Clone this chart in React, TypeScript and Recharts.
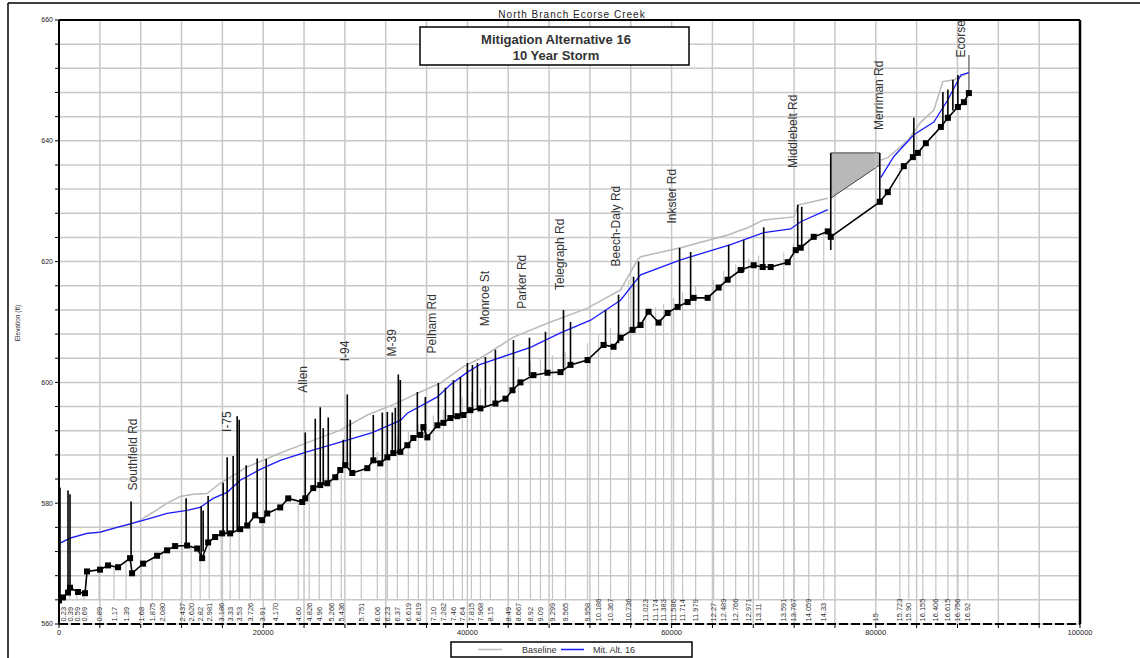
import React from 'react';
import { ComposedChart, Line, Area, Scatter, XAxis, YAxis, CartesianGrid, ReferenceLine } from 'recharts';

// ---- Data (stations in ft, elevations in ft) ----
const xsStations = [392, 1078, 1765, 2451, 3922, 5392, 6569, 8039, 9118, 10098, 12059, 12941, 13824, 14706, 15882, 16765, 17647, 18725, 19902, 21176, 23431, 24510, 25490, 26667, 27647, 29608, 31176, 32157, 33137, 34216, 35196, 36667, 37647, 38627, 39510, 40392, 41275, 42255, 44020, 45000, 46176, 47157, 48333, 49608, 51765, 52843, 54020, 55784, 57451, 58431, 59216, 60196, 61078, 62353, 64118, 65098, 66275, 67549, 68529, 70980, 71961, 73431, 74902, 80000, 82353, 83235, 84608, 85882, 87059, 88039, 89020];
const xsLabels = ['0.23', '0.39', '0.59', '0.69', '0.89', '1.17', '1.39', '1.68', '1.875', '2.080', '2.437', '2.620', '2.82', '2.981', '3.186', '3.33', '3.53', '3.726', '3.91', '4.170', '4.60', '4.826', '4.96', '5.266', '5.436', '5.751', '6.06', '6.23', '6.37', '6.619', '6.819', '7.10', '7.282', '7.46', '7.64', '7.815', '7.968', '8.15', '8.49', '8.667', '8.92', '9.09', '9.299', '9.565', '9.958', '10.186', '10.367', '10.736', '11.023', '11.174', '11.383', '11.586', '11.714', '11.979', '12.27', '12.489', '12.766', '12.971', '13.11', '13.591', '13.767', '14.059', '14.33', '15', '15.723', '15.90', '16.155', '16.406', '16.615', '16.756', '16.92'];
const xsTops = [564.6, 566.0, 565.3, 565.1, 569.0, 569.5, 570.5, 570.0, 570.8, 571.8, 573.0, 573.0, 571.0, 573.6, 575.0, 575.0, 575.7, 576.8, 577.2, 579.0, 580.4, 581.8, 583.0, 583.8, 585.6, 585.5, 588.5, 590.0, 591.0, 592.0, 593.0, 594.5, 595.5, 596.5, 597.5, 598.5, 599.0, 599.5, 601.0, 602.5, 603.5, 604.0, 604.5, 605.0, 606.5, 608.0, 609.0, 617.0, 612.0, 612.5, 613.0, 614.0, 615.0, 616.0, 617.0, 618.5, 619.5, 620.5, 621.0, 621.5, 623.0, 624.0, 625.0, 638.0, 635.5, 637.0, 639.0, 641.5, 644.5, 646.0, 648.0];

const baselineWS: [number, number | null][] = [[0, 573.3], [1078, 574.2], [2745, 575.0], [4020, 575.2], [5686, 576.0], [6960, 576.5], [7941, 577.2], [9216, 578.5], [10588, 580.0], [11863, 581.1], [13137, 581.5], [14510, 581.6], [15784, 583.3], [18431, 586.0], [21667, 588.3], [24902, 590.4], [27549, 592.1], [30196, 594.6], [33137, 596.6], [34706, 597.9], [37353, 599.9], [39608, 602.6], [41275, 604.0], [44510, 607.5], [47843, 609.8], [51765, 612.3], [55000, 615.3], [56667, 620.3], [56961, 620.8], [60882, 622.3], [65490, 624.4], [67451, 625.6], [69020, 626.9], [71961, 627.4], [72451, 629.4], [75294, 630.5], [77000, null], [80490, 636.8], [81176, 637.2], [83137, 640.1], [84412, 643.1], [85686, 645.1], [86569, 649.8], [87647, 650.1], [89118, 651.3]];

const mitAltWS: [number, number | null][] = [[0, 573.3], [1078, 574.2], [2745, 575.0], [4020, 575.2], [5686, 576.0], [7255, 576.7], [8922, 577.5], [10588, 578.3], [12549, 578.8], [13824, 579.3], [15098, 580.8], [16471, 581.8], [17745, 583.8], [19706, 585.6], [21667, 587.1], [24118, 588.4], [27549, 590.1], [30686, 591.7], [33431, 593.7], [34118, 594.9], [37059, 597.6], [38333, 599.6], [40000, 601.7], [41275, 603.0], [46176, 605.8], [49118, 608.2], [52059, 610.3], [55000, 613.6], [56961, 617.8], [60882, 620.3], [65784, 622.8], [69020, 624.8], [71667, 625.4], [72647, 626.6], [75294, 628.6], [77000, null], [80490, 633.9], [81765, 637.4], [83725, 641.0], [85686, 643.1], [87059, 646.8], [88333, 650.9], [89118, 651.3]];

const ground: [number, number][] = [[0, 563.9], [392, 564.4], [882, 565.2], [1078, 566.0], [1863, 565.3], [2549, 565.1], [2745, 568.7], [4020, 569.0], [4804, 569.7], [5784, 569.4], [6961, 570.9], [7157, 568.4], [8235, 570.0], [9608, 571.3], [10588, 572.2], [11373, 572.9], [12549, 573.0], [13529, 572.5], [14020, 570.9], [14608, 573.5], [15294, 574.4], [15980, 575.0], [16765, 575.0], [17745, 575.7], [18431, 576.3], [19216, 578.0], [19902, 577.2], [20392, 578.3], [21667, 579.3], [22451, 580.8], [23824, 580.2], [24118, 580.8], [24902, 582.5], [25588, 583.0], [26275, 583.3], [27059, 584.3], [27549, 585.5], [28039, 586.3], [28725, 585.0], [30196, 585.8], [30784, 587.1], [31471, 586.6], [32157, 587.6], [32745, 588.3], [33431, 588.5], [34118, 589.6], [34706, 590.8], [35392, 591.3], [35686, 592.6], [36078, 590.9], [37059, 592.9], [37647, 593.3], [38333, 594.1], [39020, 594.4], [39608, 594.6], [40294, 595.4], [41275, 595.7], [42745, 596.5], [43725, 597.3], [44412, 598.7], [45196, 600.0], [46471, 601.2], [47843, 601.6], [49118, 601.7], [50098, 602.9], [51765, 603.7], [53333, 606.2], [54314, 605.9], [55000, 607.4], [56176, 608.7], [56961, 609.5], [57745, 611.7], [58725, 609.9], [59608, 611.5], [60588, 612.5], [61569, 613.3], [62157, 614.0], [63529, 614.0], [64608, 615.7], [65490, 617.0], [66765, 618.6], [68039, 619.4], [68922, 619.1], [69706, 619.1], [71373, 619.9], [72157, 621.9], [72647, 622.3], [73922, 624.1], [75294, 625.0], [75588, 624.1], [80392, 629.9], [81176, 631.5], [82745, 635.8], [83627, 637.3], [84118, 638.0], [84902, 639.6], [86373, 642.3], [87059, 643.8], [88039, 645.6], [88627, 646.4], [89118, 647.9]];

// bridge / structure verticals: [station, bottom, top]
const spikes: [number, number, number][] = [[98, 564.2, 582.6], [882, 565.2, 582.1], [1078, 566.0, 581.5], [7059, 570.5, 580.3], [12451, 573.0, 580.8], [13922, 571.0, 579.5], [14118, 572.0, 578.8], [14608, 573.5, 581.2], [16078, 575.0, 583.4], [16471, 575.0, 587.6], [17059, 575.3, 587.8], [17451, 575.5, 594.4], [17647, 575.6, 593.8], [18333, 576.2, 586.3], [19412, 577.5, 587.4], [20294, 578.2, 587.3], [24118, 580.8, 591.7], [25098, 582.7, 594.0], [25588, 583.0, 595.9], [25882, 583.1, 592.4], [26373, 583.4, 594.2], [27843, 586.0, 590.5], [28235, 586.2, 598.0], [28529, 585.5, 593.8], [30784, 587.1, 594.6], [31667, 586.9, 595.0], [32157, 587.6, 595.1], [32647, 588.2, 595.0], [32941, 588.3, 595.8], [33235, 588.4, 601.3], [33431, 588.5, 600.4], [35098, 591.0, 598.4], [35882, 591.5, 597.6], [37157, 592.9, 599.9], [37843, 593.5, 599.1], [38627, 594.2, 600.4], [39314, 594.5, 600.9], [40000, 595.0, 603.2], [40490, 595.4, 602.9], [40980, 595.6, 603.2], [41765, 596.0, 604.2], [42745, 596.5, 605.4], [44510, 599.0, 607.0], [46078, 601.0, 607.4], [47647, 601.6, 608.4], [49412, 601.9, 612.0], [50098, 602.9, 610.0], [53529, 606.2, 612.0], [54804, 606.5, 614.5], [56275, 608.8, 617.5], [56765, 609.3, 620.0], [60784, 612.4, 622.3], [61863, 613.6, 621.6], [65588, 617.0, 622.8], [67059, 618.3, 623.6], [69020, 619.1, 625.7], [72353, 622.0, 629.4], [72745, 622.3, 629.1], [75588, 621.9, 638.0], [80392, 629.9, 638.0], [83725, 637.5, 643.8], [86569, 642.4, 648.1], [87059, 643.8, 648.5], [87549, 645.0, 650.1], [88039, 645.6, 650.9]];

const ecorseSpike: [number, number, number] = [89118, 647.9, 654.2];

// storage structure (shaded) : [station, low, high]
const structure: [number, number, number][] = [[75588, 630.5, 638.0], [80392, 636.0, 638.0]];

const roadNames = ['Southfield Rd', 'I-75', 'Allen', 'I-94', 'M-39', 'Pelham Rd', 'Monroe St', 'Parker Rd', 'Telegraph Rd', 'Beech-Daly Rd', 'Inkster Rd', 'Middlebelt Rd', 'Merriman Rd', 'Ecorse'];
const roadStations = [7255, 16471, 23922, 28039, 32647, 36569, 41765, 45392, 49118, 54510, 60000, 71863, 80294, 88333];
const roadElevs = [582.1, 591.8, 598.3, 603.5, 604.3, 604.8, 609.3, 612.2, 615.3, 619.2, 626.3, 635.5, 641.8, 653.8];

const xTicks = Array.from({ length: 26 }, (_, i) => i * 4000);
const yTicks = Array.from({ length: 26 }, (_, i) => 560 + i * 4);

const FONT = '"Liberation Sans", Arial, sans-serif';
const W = 1140;
const H = 658;

// ---- derived tables ----
const toLine = (arr: [number, number | null][]) => arr.map(([x, y]) => ({ x, y }));
const pairsData = (arr: [number, number, number][]) =>
  arr.flatMap(([x, b, t]) => [{ x, y: b }, { x, y: t }, { x, y: null }]);
const xsLineData = pairsData(xsStations.map((s, i) => [s, 564, xsTops[i]] as [number, number, number]));
const xsLabelData = xsStations.map((s, i) => ({ x: s, y: 560, name: xsLabels[i] }));
const spikeData = pairsData(spikes);
const ecorseData = pairsData([ecorseSpike]);
const structureData = structure.map(([x, lo, hi]) => ({ x, lo, hi }));
const roadData = roadNames.map((n, i) => ({ x: roadStations[i], y: roadElevs[i], name: n }));

const Marker = (p: any) => {
  if (p.cx == null || p.cy == null) return <g key={p.index} />;
  return <rect key={p.index} x={p.cx - 3} y={p.cy - 3} width={6} height={6} fill="#000" />;
};

const RoadLabel = (p: any) => (
  <text
    x={p.cx}
    y={p.cy}
    transform={`rotate(-90 ${p.cx} ${p.cy})`}
    fontSize={12}
    fontFamily={FONT}
    fill="#333"
    textAnchor="start"
    dominantBaseline="central"
  >
    {p.payload.name}
  </text>
);

const XsLabel = (p: any) => (
  <text
    x={p.cx}
    y={p.cy - 2.5}
    transform={`rotate(-90 ${p.cx} ${p.cy - 2.5})`}
    fontSize={7.5}
    fontFamily={FONT}
    fill="#333"
    textAnchor="start"
    dominantBaseline="central"
  >
    {p.payload.name}
  </text>
);

export default function App() {
  return (
    <div style={{ position: 'absolute', left: 0, top: 0, width: W, height: H, background: '#fff', fontFamily: FONT }}>
      <ComposedChart width={W} height={H} margin={{ top: 20, right: 60, bottom: 14, left: 34 }}>
        <CartesianGrid stroke="#c8c8c8" strokeWidth={1.5} />
        <XAxis
          type="number"
          dataKey="x"
          domain={[0, 100000]}
          ticks={xTicks}
          interval={0}
          allowDataOverflow
          height={20}
          tickSize={4}
          tickFormatter={(v: number) => (v % 20000 === 0 ? String(v) : '')}
          tick={{ fontSize: 7.5, fill: '#222', fontFamily: FONT }}
          tickLine={{ stroke: '#000' }}
          axisLine={{ stroke: '#000', strokeWidth: 2, strokeDasharray: '9 3' }}
        />
        <YAxis
          type="number"
          dataKey="y"
          domain={[560, 660]}
          ticks={yTicks}
          interval={0}
          allowDataOverflow
          width={25}
          tickSize={4}
          tickFormatter={(v: number) => (v % 20 === 0 ? String(v) : '')}
          tick={{ fontSize: 7, fill: '#222', fontFamily: FONT }}
          tickLine={{ stroke: '#000' }}
          axisLine={{ stroke: '#000', strokeWidth: 2 }}
        />
        <ReferenceLine y={660} stroke="#000" strokeWidth={2} />
        <ReferenceLine x={100000} stroke="#000" strokeWidth={2.5} />
        <Line data={xsLineData} dataKey="y" stroke="#c4c4c4" strokeWidth={1.2} dot={false} connectNulls={false} isAnimationActive={false} legendType="none" />
        <Line data={ecorseData} dataKey="y" stroke="#777" strokeWidth={1.5} dot={false} connectNulls={false} isAnimationActive={false} legendType="none" />
        <Line data={toLine(baselineWS)} dataKey="y" stroke="#b9b9b9" strokeWidth={1.5} dot={false} connectNulls={false} isAnimationActive={false} />
        <Line data={toLine(mitAltWS)} dataKey="y" stroke="#1a1aff" strokeWidth={1.3} dot={false} connectNulls={false} isAnimationActive={false} />
        <Area data={structureData} dataKey={(d: any) => [d.lo, d.hi]} stroke="#444" strokeWidth={1} fill="#b8b8b8" fillOpacity={1} isAnimationActive={false} legendType="none" />
        <Line data={spikeData} dataKey="y" stroke="#000" strokeWidth={1.6} dot={false} connectNulls={false} isAnimationActive={false} legendType="none" />
        <Line data={toLine(ground)} dataKey="y" stroke="#000" strokeWidth={1.6} dot={Marker} isAnimationActive={false} legendType="none" />
        <Scatter data={xsLabelData} shape={XsLabel} isAnimationActive={false} legendType="none" />
        <Scatter data={roadData} shape={RoadLabel} isAnimationActive={false} legendType="none" />
      </ComposedChart>
      <svg width={W} height={H} style={{ position: 'absolute', left: 0, top: 0, pointerEvents: 'none' }}>
        <line x1={8} y1={3} x2={W} y2={3} stroke="#000" strokeWidth={1.5} />
        <line x1={8} y1={3} x2={8} y2={H} stroke="#000" strokeWidth={1.5} />
        <text x={572} y={14} fontSize={10} letterSpacing={1} fill="#222" textAnchor="middle" dominantBaseline="central" fontFamily={FONT}>
          North Branch Ecorse Creek
        </text>
        <rect x={420} y={27} width={269} height={38} fill="#fff" stroke="#000" strokeWidth={1.5} />
        <text x={556} y={39} fontSize={13} fontWeight="bold" fill="#333" textAnchor="middle" dominantBaseline="central" fontFamily={FONT}>
          Mitigation Alternative 16
        </text>
        <text x={556} y={55} fontSize={13} fontWeight="bold" fill="#333" textAnchor="middle" dominantBaseline="central" fontFamily={FONT}>
          10 Year Storm
        </text>
        <text x={17} y={323} fontSize={6.5} fill="#333" textAnchor="middle" dominantBaseline="central" transform="rotate(-90 17 323)" fontFamily={FONT}>
          Elevation (ft)
        </text>
        <rect x={451} y={642} width={241} height={15} fill="#fff" stroke="#000" strokeWidth={1.5} />
        <line x1={478} y1={649.5} x2={502} y2={649.5} stroke="#b9b9b9" strokeWidth={1.5} />
        <text x={522} y={649.5} fontSize={9} fill="#333" dominantBaseline="central" fontFamily={FONT}>Baseline</text>
        <line x1={561} y1={649.5} x2={584} y2={649.5} stroke="#1a1aff" strokeWidth={1.5} />
        <text x={593} y={649.5} fontSize={9} fill="#333" dominantBaseline="central" fontFamily={FONT}>Mit. Alt. 16</text>
      </svg>
    </div>
  );
}
